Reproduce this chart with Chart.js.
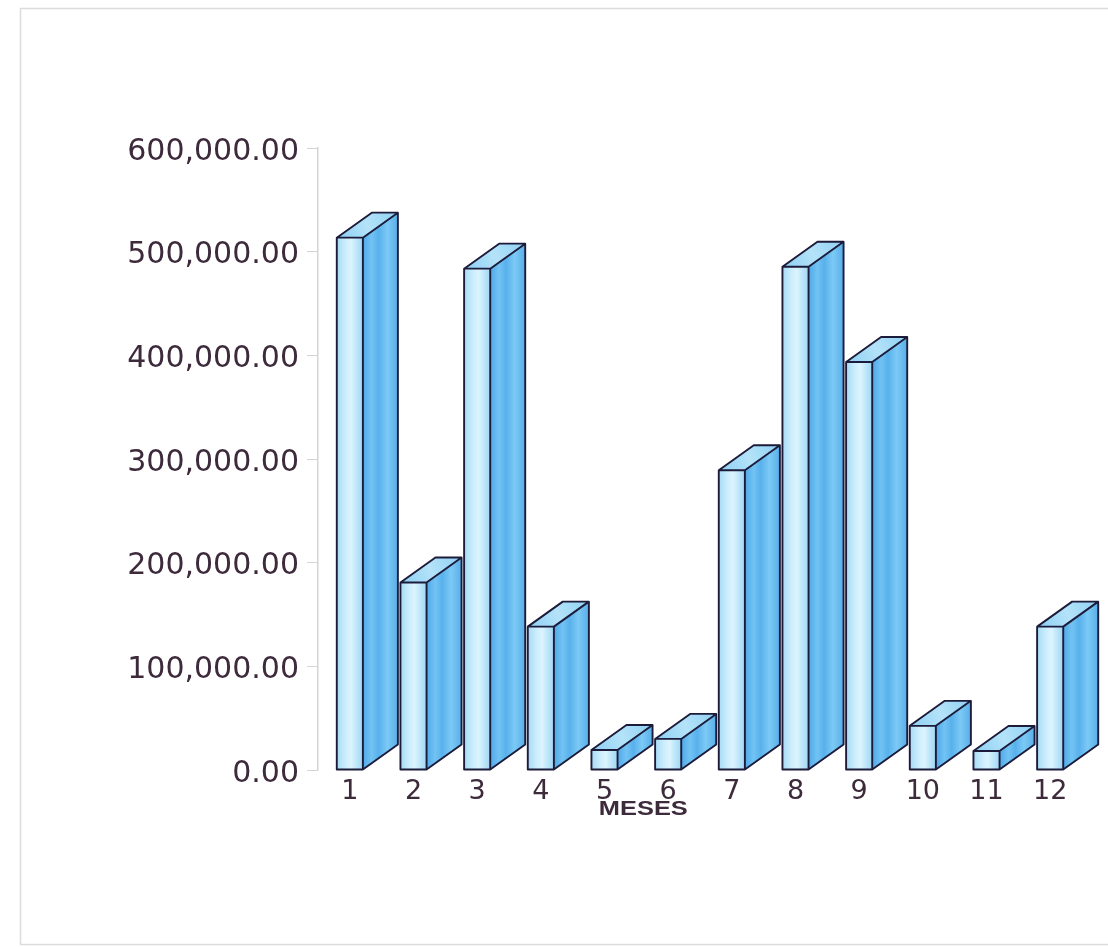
<!DOCTYPE html>
<html>
<head>
<meta charset="utf-8">
<title>Ventas por mes</title>
<script src="https://cdn.jsdelivr.net/npm/chart.js@4.4.1/dist/chart.umd.min.js"></script>
<style>
  body { margin: 0; background: #ffffff; }
  #grafico_1 { display: block; }
</style>
</head>
<body>
<canvas id="grafico_1" width="1108" height="947"></canvas>
<script>

// dati
var mesi = ['1', '2', '3', '4', '5', '6', '7', '8', '9', '10', '11', '12'];
var importi = [513500, 180800, 483600, 138300, 19300, 30000, 289200, 485500, 393600, 42600, 18400, 138300];
var tick_y = [0, 100000, 200000, 300000, 400000, 500000, 600000];
var titolo_x = 'MESES';

var colore_testo = '#3d2a3b';
var colore_bordo = '#1d1b3a';
var font_assi = '"DejaVu Sans", "Liberation Sans", Arial, sans-serif';

// profondita delle barre 3d
var prof_x = 35;
var prof_y = 25;

// sfondo e cornice grigia della pagina
var cornice = {
  id: 'cornice',
  beforeDraw: function(chart){
    var ctx = chart.ctx;
    ctx.save();
    ctx.fillStyle = '#ffffff';
    ctx.fillRect(0, 0, chart.width, chart.height);
    ctx.strokeStyle = '#dcdcdc';
    ctx.lineWidth = 1.5;
    ctx.strokeRect(20.5, 8.5, 1090, 936);
    ctx.restore();
  }
};

// facce laterali e superiori delle barre
var barre_3d = {
  id: 'barre_3d',
  afterDatasetsDraw: function(chart){
    var ctx = chart.ctx;
    var meta = chart.getDatasetMeta(0);
    ctx.save();
    for (var i = 0; i < meta.data.length; i++) {
      var p = meta.data[i].getProps(['x', 'y', 'base', 'width'], true);
      var sx = p.x - p.width / 2;
      var dx = p.x + p.width / 2;
      var alto = p.y;
      var basso = p.base;

      // fronte
      var g1 = ctx.createLinearGradient(sx, 0, dx, 0);
      g1.addColorStop(0, '#a6dbf5');
      g1.addColorStop(0.35, '#cdeefc');
      g1.addColorStop(0.55, '#dcf4fe');
      g1.addColorStop(0.75, '#bfe7fa');
      g1.addColorStop(1, '#a0d6f3');
      ctx.fillStyle = g1;
      ctx.fillRect(sx, alto, dx - sx, basso - alto);

      // lato
      var g2 = ctx.createLinearGradient(dx, 0, dx + prof_x, 0);
      g2.addColorStop(0, '#4ea8e8');
      g2.addColorStop(0.25, '#72c3f3');
      g2.addColorStop(0.45, '#58b1ec');
      g2.addColorStop(0.7, '#7cc9f5');
      g2.addColorStop(1, '#57aee9');
      ctx.fillStyle = g2;
      ctx.beginPath();
      ctx.moveTo(dx, alto);
      ctx.lineTo(dx + prof_x, alto - prof_y);
      ctx.lineTo(dx + prof_x, basso - prof_y);
      ctx.lineTo(dx, basso);
      ctx.closePath();
      ctx.fill();

      // sopra
      var g3 = ctx.createLinearGradient(sx, alto, dx + prof_x, alto - prof_y);
      g3.addColorStop(0, '#8ccff3');
      g3.addColorStop(0.5, '#b4e3f9');
      g3.addColorStop(1, '#8fd0f3');
      ctx.fillStyle = g3;
      ctx.beginPath();
      ctx.moveTo(sx, alto);
      ctx.lineTo(sx + prof_x, alto - prof_y);
      ctx.lineTo(dx + prof_x, alto - prof_y);
      ctx.lineTo(dx, alto);
      ctx.closePath();
      ctx.fill();

      // contorni
      ctx.strokeStyle = colore_bordo;
      ctx.lineWidth = 1.9;
      ctx.lineJoin = 'round';
      ctx.beginPath();
      ctx.rect(sx, alto, dx - sx, basso - alto);
      ctx.moveTo(sx, alto);
      ctx.lineTo(sx + prof_x, alto - prof_y);
      ctx.lineTo(dx + prof_x, alto - prof_y);
      ctx.lineTo(dx, alto);
      ctx.moveTo(dx + prof_x, alto - prof_y);
      ctx.lineTo(dx + prof_x, basso - prof_y);
      ctx.lineTo(dx, basso);
      ctx.stroke();
    }
    ctx.restore();
  }
};

// titolo dell'asse x, un po' a sinistra del centro come nell'originale
var titolo_asse = {
  id: 'titolo_asse',
  afterDraw: function(chart){
    var ctx = chart.ctx;
    var sc = chart.scales.x;
    var cx = (sc.getPixelForValue(4) + sc.getPixelForValue(5)) / 2 + 7;
    ctx.save();
    ctx.translate(cx, 809);
    ctx.scale(1.27, 1);
    ctx.font = 'bold 20px "Liberation Sans", Arial, sans-serif';
    ctx.fillStyle = colore_testo;
    ctx.textAlign = 'center';
    ctx.textBaseline = 'middle';
    ctx.fillText(titolo_x, 0, 0);
    ctx.restore();
  }
};

function disegna_grafico(mesi, importi){
  var canvas = document.getElementById('grafico_1');
  var chart = new Chart(canvas, {
    type: 'bar',
    data: {
      labels: mesi,
      datasets: [{
        label: 'Ventas',
        data: importi,
        backgroundColor: '#bfe7fa',
        borderColor: colore_bordo,
        borderWidth: 0,
        categoryPercentage: 1,
        barPercentage: 0.41
      }]
    },
    options: {
      responsive: false,
      animation: false,
      layout: {
        padding: { top: 148, right: 26, bottom: 0, left: 0 }
      },
      plugins: {
        legend: { display: false },
        tooltip: { enabled: false }
      },
      scales: {
        x: {
          grid: { display: false },
          border: { display: false },
          ticks: {
            color: colore_testo,
            font: { family: font_assi, size: 27 },
            padding: -2,
            maxRotation: 0
          },
          afterFit: function(scale){ scale.height = 177; }
        },
        y: {
          min: 0,
          max: 600000,
          afterBuildTicks: function(scale){
            scale.ticks = tick_y.map(function(v){ return { value: v }; });
          },
          grid: {
            drawOnChartArea: false,
            drawTicks: true,
            tickLength: 11,
            color: '#d4d4d4',
            lineWidth: 1
          },
          border: { display: true, color: '#d4d4d4', width: 1.5 },
          ticks: {
            color: colore_testo,
            font: { family: font_assi, size: 30 },
            padding: 8,
            labelOffset: 4,
            callback: function(v){
              return Number(v).toLocaleString('en-US', { minimumFractionDigits: 2, maximumFractionDigits: 2 });
            }
          },
          afterFit: function(scale){ scale.width = 318; }
        }
      }
    },
    plugins: [cornice, barre_3d, titolo_asse]
  });
  return chart;
}

disegna_grafico(mesi, importi);

</script>
</body>
</html>
